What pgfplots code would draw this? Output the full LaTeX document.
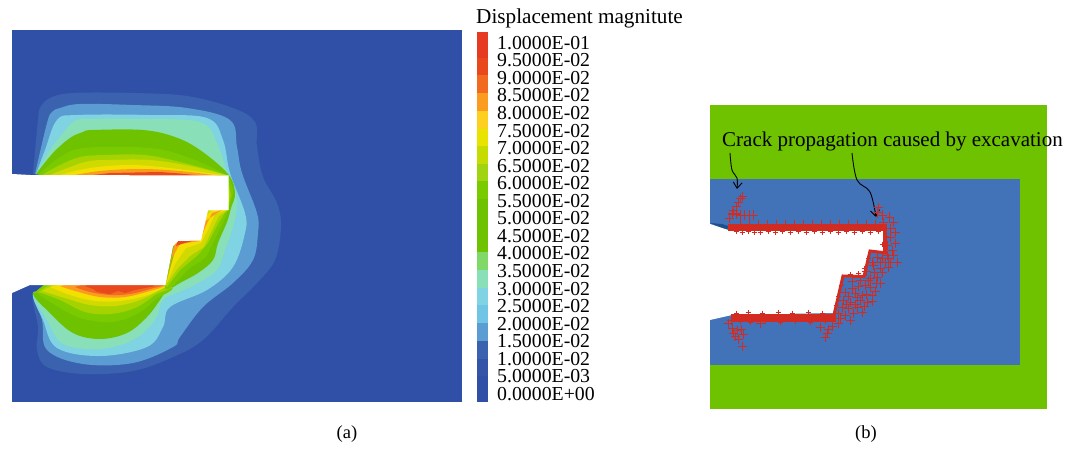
\documentclass[border=0pt]{standalone}
\usepackage{fontspec}
\setmainfont{Liberation Serif}
\usepackage{pgfplots}
\pgfplotsset{compat=1.18}
\usetikzlibrary{arrows.meta}
\definecolor{bgb}{HTML}{3050A8}
\definecolor{c1}{HTML}{3A62AE}
\definecolor{c2}{HTML}{5B9CD2}
\definecolor{c3}{HTML}{7FD3E2}
\definecolor{c4}{HTML}{89DFB8}
\definecolor{g0}{HTML}{6FC200}
\definecolor{g1}{HTML}{7ACA00}
\definecolor{g2}{HTML}{A6D200}
\definecolor{g3}{HTML}{D0DA00}
\definecolor{y1}{HTML}{F3E000}
\definecolor{o1}{HTML}{FB9B20}
\definecolor{o2}{HTML}{F16A20}
\definecolor{r1}{HTML}{E8481C}
\definecolor{r0}{HTML}{E63A22}
\definecolor{pg}{HTML}{6EC200}
\definecolor{pb}{HTML}{4272B8}
\definecolor{cr}{HTML}{D22C22}
\begin{document}
\begin{tikzpicture}
\begin{axis}[
  scale only axis, width=1073pt, height=449pt,
  xmin=0, xmax=1073, ymin=0, ymax=449, y dir=reverse,
  hide axis, clip=true,
]
\path (axis cs:0,0) rectangle (axis cs:1073,449);
% ---------- panel (a)
\addplot[fill=bgb,draw=none] coordinates {(12,30)(462,30)(462,402)(12,402)};
\addplot[fill=c1,draw=none,smooth,tension=0.6] coordinates {(33,174)(38,120)(40,108)(50,98)(73,93)(133,93)(187,96)(233,108)(255,122)(257,147)(263,177)(277,203)(281,227)(275,260)(257,283)(233,307)(203,340)(173,357)(133,371)(83,374)(47,367)(37,350)(38,327)(33,293)(52,285)(52,175)};
\addplot[fill=c2,draw=none,smooth,tension=0.6] coordinates {(35,174)(47,123)(52,112)(60,108)(80,104)(133,105)(187,108)(230,120)(237,147)(242,173)(257,213)(258,233)(253,260)(233,283)(203,307)(180,337)(173,347)(133,363)(83,364)(47,350)(42,320)(33,293)(52,285)(52,175)};
\addplot[fill=c3,draw=none,smooth,tension=0.6] coordinates {(36,174)(45,150)(57,120)(77,115)(150,115)(207,118)(223,140)(230,173)(245,213)(245,233)(233,267)(207,290)(170,307)(163,327)(147,347)(100,356)(57,348)(43,320)(33,293)(52,285)(52,175)};
\addplot[fill=c4,draw=none,smooth,tension=0.6] coordinates {(36,174)(50,150)(63,133)(73,122)(85,119)(140,119)(200,122)(217,143)(228,175)(235,190)(237,207)(233,227)(225,250)(217,270)(198,283)(177,293)(163,300)(155,320)(133,340)(100,349)(63,344)(47,320)(33,293)(52,285)(52,175)};
\addplot[fill=g0,draw=none,smooth,tension=0.6] coordinates {(36,174)(53,153)(70,138)(83,132)(93,130)(143,130)(175,137)(200,150)(228,174)(235,193)(231,208)(227,222)(218,243)(213,260)(198,273)(180,283)(166,292)(160,300)(147,317)(127,333)(100,339)(73,333)(50,313)(33,293)(52,285)(52,175)};
% upper bands
\addplot[fill=g1,draw=none,smooth,tension=0.6] coordinates {(38,175)(60,157)(85,148)(150,148)(190,158)(227,175)};
\addplot[fill=g2,draw=none,smooth,tension=0.6] coordinates {(42,175)(60,165)(80,157)(105,155)(145,155)(180,162)(210,170)(226,175)};
\addplot[fill=g3,draw=none,smooth,tension=0.6] coordinates {(50,175)(85,162)(110,160)(150,160)(190,166)(226,175)};
\addplot[fill=y1,draw=none,smooth,tension=0.6] coordinates {(60,175)(90,168)(130,165)(170,168)(222,175)};
\addplot[fill=o1,draw=none,smooth,tension=0.6] coordinates {(70,176)(100,171)(140,169)(180,171)(220,176)};
\addplot[fill=r1,draw=none] coordinates {(85,176)(110,173)(135,172.5)(160,172)(180,173.5)(205,176)};
% lower bands
\addplot[fill=g1,draw=none,smooth,tension=0.6] coordinates {(35,292)(55,305)(80,318)(110,322)(135,315)(155,300)(166,285)(45,284)};
\addplot[fill=g2,draw=none,smooth,tension=0.6] coordinates {(38,292)(60,300)(85,312)(110,314)(135,308)(155,295)(166,285)(50,284)};
\addplot[fill=g3,draw=none,smooth,tension=0.6] coordinates {(42,291)(65,298)(90,305)(115,306)(140,300)(165,287)(166,284)(55,284)};
\addplot[fill=y1,draw=none,smooth,tension=0.6] coordinates {(50,287)(70,295)(95,301)(120,301)(145,296)(165,287)(165,284)(62,284)};
\addplot[fill=o1,draw=none,smooth,tension=0.6] coordinates {(60,286)(75,291)(100,297)(125,297)(150,291)(165,286)(165,284)(70,284)};
\addplot[fill=o2,draw=none,smooth,tension=0.6] coordinates {(75,287)(90,292)(110,295)(130,294)(150,289)(160,284)(85,284)};
\addplot[fill=r1,draw=none] coordinates {(85,286)(93,289)(97,292)(110,294)(118,291)(125,293)(135,290)(145,288)(155,286)(150,284)(90,284)};
% steps
\addplot[fill=g1,draw=none,smooth,tension=0.4] coordinates {(228,175)(233,190)(229,208)(222,225)(212,245)(205,258)(190,268)(170,288)(165,285)(178,241)};
\addplot[fill=g2,draw=none] coordinates {(228,180)(231,195)(228,208)(218,224)(208,243)(198,255)(180,270)(167,287)(165,285)(178,241)};
\addplot[fill=g3,draw=none] coordinates {(229,190)(228,210)(219,216)(212,230)(204,247)(190,256)(178,268)(166,285)(178,241)};
\addplot[fill=y1,draw=none] coordinates {(229,195)(227,210)(215,214)(208,230)(201,243)(186,248)(175,264)(166,285)(178,241)};
\addplot[fill=o1,draw=none] coordinates {(222,210)(212,213)(205,228)(200,241)(180,244)(172,258)(167,279)(175,241)};
\addplot[fill=r1,draw=none] coordinates {(178,241)(192,241)(183,243.5)(176,246)};
% tunnel
\addplot[fill=white,draw=none] coordinates {(0,174)(12,174)(30,175)(228.5,175.5)(228.5,210)(208,210.5)(201,240.5)(178,241)(173,246)(165.5,285)(30,285)(12,293)(0,293)};
% ---------- colour bar
\addplot[fill=r0,draw=none] coordinates {(477,31.7)(488,31.7)(488,57.7)(477,57.7)};
\addplot[fill=r1,draw=none] coordinates {(477,57.7)(488,57.7)(488,75.3)(477,75.3)};
\addplot[fill=o2,draw=none] coordinates {(477,75.3)(488,75.3)(488,93.3)(477,93.3)};
\addplot[fill=o1,draw=none] coordinates {(477,93.3)(488,93.3)(488,110.7)(477,110.7)};
\addplot[fill={rgb,255:red,253;green,208;blue,32},draw=none] coordinates {(477,110.7)(488,110.7)(488,128.7)(477,128.7)};
\addplot[fill={rgb,255:red,232;green,228;blue,0},draw=none] coordinates {(477,128.7)(488,128.7)(488,146)(477,146)};
\addplot[fill={rgb,255:red,198;green,220;blue,0},draw=none] coordinates {(477,146)(488,146)(488,164)(477,164)};
\addplot[fill={rgb,255:red,160;green,212;blue,16},draw=none] coordinates {(477,164)(488,164)(488,181.3)(477,181.3)};
\addplot[fill=g1,draw=none] coordinates {(477,181.3)(488,181.3)(488,199)(477,199)};
\addplot[fill=g0,draw=none] coordinates {(477,199)(488,199)(488,252.3)(477,252.3)};
\addplot[fill={rgb,255:red,128;green,216;blue,104},draw=none] coordinates {(477,252.3)(488,252.3)(488,270)(477,270)};
\addplot[fill=c4,draw=none] coordinates {(477,270)(488,270)(488,287.7)(477,287.7)};
\addplot[fill=c3,draw=none] coordinates {(477,287.7)(488,287.7)(488,305.3)(477,305.3)};
\addplot[fill={rgb,255:red,112;green,196;blue,228},draw=none] coordinates {(477,305.3)(488,305.3)(488,323)(477,323)};
\addplot[fill=c2,draw=none] coordinates {(477,323)(488,323)(488,340.7)(477,340.7)};
\addplot[fill=c1,draw=none] coordinates {(477,340.7)(488,340.7)(488,358.7)(477,358.7)};
\addplot[fill={rgb,255:red,52;green,84;blue,168},draw=none] coordinates {(477,358.7)(488,358.7)(488,376)(477,376)};
\addplot[fill=bgb,draw=none] coordinates {(477,376)(488,376)(488,402)(477,402)};
% ---------- panel (b)
\addplot[fill=pg,draw=none] coordinates {(710,105)(1047,105)(1047,409)(710,409)};
\addplot[fill=pb,draw=none] coordinates {(710,179)(1020,179)(1020,365)(710,365)};
\addplot[fill={rgb,255:red,32;green,78;blue,140},draw=none] coordinates {(710,223)(722,224)(735,228)(724,229)};
\addplot[fill=white,draw=none] coordinates {(710,224)(728,230)(883,230)(883,252)(870,252)(863,277)(843,277)(833,313)(732,315)(710,320)};
\addplot[draw=cr,line width=7pt] coordinates {(728,227)(887,227)};
\addplot[draw=cr,line width=4pt] coordinates {(885,225)(885,253)};
\addplot[draw=cr,line width=3pt] coordinates {(887,253)(870,251)(864,276.5)(843,276)(834,315)};
\addplot[draw=cr,line width=8pt] coordinates {(731,317.5)(836,317.5)};
\addplot[only marks,mark=+,mark size=2.5pt,draw=cr,mark options={draw=cr,line width=0.9pt}] coordinates {
(736,231)(742,232)(748,231)(754,232)(760,232)(768,231)(775,232)(782,231)(790,232)(798,231)(806,232)(814,231)(822,232)(830,231)(838,232)(846,231)(854,232)(862,231)(870,232)(878,231)
(740,321)(750,322)(765,321)(780,322)(795,321)(810,322)(825,321)
(736,313)(748,312)(762,313)(778,312)(792,313)(808,312)(822,313)
(886,236)(882,244)(868,258)(864,268)(850,274)(858,273)(841,285)(838,296)(836,305)
};
\addplot[only marks,mark=+,mark size=4.5pt,draw=cr,mark options={draw=cr,line width=1pt}] coordinates {
(742,197)(740,199)(738,203)(736,207)(733,211)(732,214)(729,218)(736,214)(740,215)(744,215)(749,215)(753,215)
(740,224)(749,224)(758,224)(767,224)(776,224)(785,224)(794,224)(803,224)(812,224)(821,224)(830,224)(839,224)(848,224)(857,224)(866,224)(875,224)
(878,208)(882,215)(877,213)(893,222)(890,228)(895,232)(890,237)(895,243)(892,250)(887,255)(893,255)(897,262)(890,262)(882,258)(877,257)(873,265)(880,268)(888,267)
(870,278)(877,277)(880,283)(858,286)(852,288)(865,285)(870,287)(845,292)(855,293)(862,295)(872,295)(843,300)(850,302)(860,300)(867,302)(842,307)(848,308)(857,307)(838,313)(845,315)(853,313)(862,312)
(728,323)(732,328)(737,330)(733,333)(743,334)(738,339)(742,346)(760,323)(820,327)(827,333)(825,337)(832,326)(838,323)(828,329)
(872,262)(880,262)(888,258)(866,271)(874,272)(882,272)(852,281)(860,280)(868,280)(876,283)(848,296)(857,297)(866,294)(875,291)(846,304)(855,304)(864,306)(872,301)(840,318)(850,320)
(735,336)(741,329)(731,320)(887,245)(885,262)(889,217)(883,222)
};
% arrows
\addplot[black,line width=0.9pt,smooth,tension=0.6,-{Straight Barb[length=6pt,width=9pt]}] coordinates {(730,153)(732,170)(737,178)(737,189)};
\addplot[black,line width=0.9pt,smooth,tension=0.6,-{Straight Barb[length=6pt,width=9pt]}] coordinates {(852,153)(857,180)(870,192)(876,217)};
% ---------- text
\node[anchor=base west,inner sep=0pt,font=\fontsize{21.2}{21.2}\selectfont] at (axis cs:476,24) {Displacement magnitute};
\foreach \yy/\ll in {49.3/1.0000E-01,66.9/9.5000E-02,84.4/9.0000E-02,102/8.5000E-02,119.5/8.0000E-02,137.1/7.5000E-02,154.6/7.0000E-02,172.2/6.5000E-02,189.7/6.0000E-02,207.3/5.5000E-02,224.8/5.0000E-02,242.4/4.5000E-02,259.9/4.0000E-02,277.5/3.5000E-02,295/3.0000E-02,312.6/2.5000E-02,330.1/2.0000E-02,347.7/1.5000E-02,365.2/1.0000E-02,382.8/5.0000E-03,400.3/0.0000E+00}{
  \edef\temp{\noexpand\node[anchor=base west,inner sep=0pt,font=\noexpand\fontsize{19.8}{19.8}\noexpand\selectfont] at (axis cs:497,\yy) {\ll};}
  \temp
}
\node[anchor=base west,inner sep=0pt,font=\fontsize{21}{21}\selectfont] at (axis cs:722,147) {Crack propagation caused by excavation};
\node[anchor=base,inner sep=0pt,font=\fontsize{18.5}{18.5}\selectfont] at (axis cs:347,438) {(a)};
\node[anchor=base,inner sep=0pt,font=\fontsize{18.5}{18.5}\selectfont] at (axis cs:866,438) {(b)};
\end{axis}
\end{tikzpicture}
\end{document}
